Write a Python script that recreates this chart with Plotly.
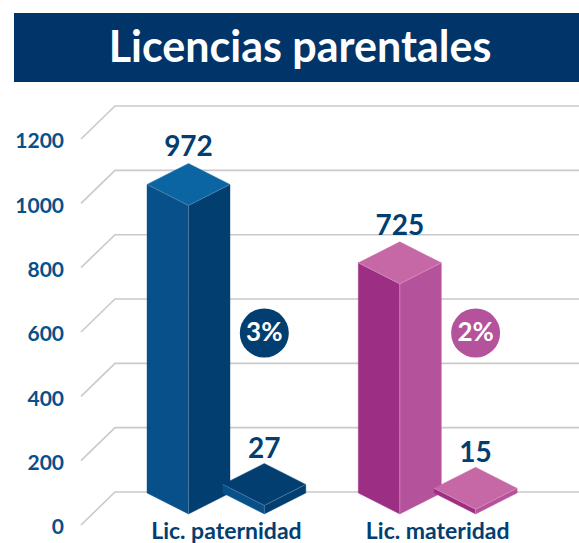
import plotly.graph_objects as go

# ---- data ----
categories = ["Lic. paternidad", "Lic. materidad"]
totals = [972, 725]
subset = [27, 15]
shares = ["3%", "2%"]
tick_values = [0, 200, 400, 600, 800, 1000, 1200]
tick_labels = ["0", "200", "400", "600", "800", "1000", "1200"]

# ---- styles ----
W, H = 579, 543
NAVY = "#01356a"
TICK = "#07508a"
GRID = "#c9c9ce"
PALETTES = [
    dict(left="#07508a", right="#033e71", top="#0b65a3", top2="#033e71", edge="#5d88ad", disc="#033e71"),
    dict(left="#9c2f84", right="#b5529c", top="#c568a5", top2="#c568a5", edge="#d993c1", disc="#b5529c"),
]
FONT = "Lato"
MARGIN_L, PLOT_BOTTOM = 68, 526
CAT_PX = 211.3        # pixels per category step
CAT0_PX = 226.4       # pixel centre of the first category
VAL_PX = 64.33 / 200  # pixels per value unit on the gridlines
ZERO_PX = 525         # pixel of value 0 on the front of the wall
BAR_K = 0.987         # bars' height factor
BIG_OFF, SMALL_OFF = -37.9, 37.9
HALF_W, HALF_D = 41.5, 21
BASE_RISE = 32        # base centre above zero front
GRID_DX, GRID_DY = 34, 33
GRID_FRONT_X = 81


def dx(px):
    return px / CAT_PX


def dy(px):
    return px / VAL_PX


xrange_ = [(MARGIN_L - CAT0_PX) / CAT_PX, (W - CAT0_PX) / CAT_PX]
yrange_ = [(ZERO_PX - PLOT_BOTTOM) / VAL_PX, ZERO_PX / VAL_PX]

fig = go.Figure()

# gridlines: front-left diagonal, then along the back wall
x_front = (GRID_FRONT_X - CAT0_PX) / CAT_PX
for v in tick_values:
    fig.add_trace(go.Scatter(
        x=[x_front, x_front + dx(GRID_DX), xrange_[1]],
        y=[v, v + dy(GRID_DY), v + dy(GRID_DY)],
        mode="lines", line=dict(color=GRID, width=1.6),
        hoverinfo="skip", showlegend=False))


def poly(xs, ys, color):
    fig.add_trace(go.Scatter(
        x=xs, y=ys, mode="lines", fill="toself", fillcolor=color,
        line=dict(color=color, width=0.4), hoverinfo="skip", showlegend=False))


def block(cat, off_px, value, c_left, c_right, c_top, c_edge):
    cx = cat + dx(off_px)
    hw, hd = dx(HALF_W), dy(HALF_D)
    base = dy(BASE_RISE)
    top = base + value * BAR_K
    poly([cx - hw, cx, cx, cx - hw, cx - hw], [base, base - hd, top - hd, top, base], c_left)
    poly([cx + hw, cx, cx, cx + hw, cx + hw], [base, base - hd, top - hd, top, base], c_right)
    poly([cx - hw, cx, cx + hw, cx, cx - hw], [top, top + hd, top, top - hd, top], c_top)
    fig.add_trace(go.Scatter(
        x=[cx - hw, cx, cx + hw, None, cx, cx],
        y=[top, top - hd, top, None, top - hd, base - hd],
        mode="lines", line=dict(color=c_edge, width=0.7),
        hoverinfo="skip", showlegend=False))
    return cx, top + hd


label_x, label_y, label_t = [], [], []
disc_x, disc_y, disc_c = [], [], []
for i, cat in enumerate(categories):
    p = PALETTES[i]
    cx, apex = block(i, BIG_OFF, totals[i], p["left"], p["right"], p["top"], p["edge"])
    label_x.append(cx)
    label_y.append(apex + dy(14))
    label_t.append(str(totals[i]))
    cx, apex = block(i, SMALL_OFF, subset[i], p["left"], p["right"], p["top2"], p["edge"])
    label_x.append(cx)
    label_y.append(apex + dy(12.5))
    label_t.append(str(subset[i]))
    disc_x.append(cx)
    disc_y.append(dy(ZERO_PX - 333))
    disc_c.append(p["disc"])

fig.add_trace(go.Scatter(
    x=label_x, y=label_y, text=label_t, mode="text", textposition="middle center",
    textfont=dict(family=FONT, size=28, color="#033e71", weight=700),
    hoverinfo="skip", showlegend=False))
fig.add_trace(go.Scatter(
    x=disc_x, y=disc_y, mode="markers",
    marker=dict(size=49, color=disc_c, line=dict(width=0)),
    hoverinfo="skip", showlegend=False))
fig.add_trace(go.Scatter(
    x=disc_x, y=[v - dy(1.5) for v in disc_y], text=shares, mode="text", textposition="middle center",
    textfont=dict(family=FONT, size=26, color="white", weight=700),
    hoverinfo="skip", showlegend=False))

fig.update_layout(
    width=W, height=H,
    autosize=False,
    margin=dict(l=MARGIN_L, r=0, t=0, b=H - PLOT_BOTTOM, pad=0),
    paper_bgcolor="white", plot_bgcolor="white",
    title=dict(text="Licencias parentales", x=(300 - MARGIN_L) / (W - MARGIN_L), xref="paper", xanchor="center",
               y=1 - 47 / H, yref="container", yanchor="middle",
               font=dict(family=FONT, size=43, color="white", weight=700)),
    shapes=[dict(type="rect", xref="paper", yref="paper", layer="below",
                 x0=(14 - MARGIN_L) / (W - MARGIN_L), x1=1,
                 y0=(PLOT_BOTTOM - 82) / PLOT_BOTTOM, y1=(PLOT_BOTTOM - 13) / PLOT_BOTTOM,
                 fillcolor=NAVY, line=dict(width=0))],
    xaxis=dict(range=xrange_, tickmode="array", tickvals=list(range(len(categories))),
               ticktext=categories, showgrid=False, zeroline=False, showline=False, ticks="",
               automargin=False, ticklabelstandoff=-11,
               tickfont=dict(family=FONT, size=23, color="#033e71", weight=700)),
    yaxis=dict(range=yrange_, tickmode="array", tickvals=tick_values, ticktext=tick_labels,
               showgrid=False, zeroline=False, showline=False, ticks="",
               automargin=False, ticklabelstandoff=3, ticklabelshift=2,
               tickfont=dict(family=FONT, size=21, color=TICK, weight=700)),
)

fig.write_html("out.html", config=dict(displayModeBar=False),
               post_script="document.body.style.margin='0';")
